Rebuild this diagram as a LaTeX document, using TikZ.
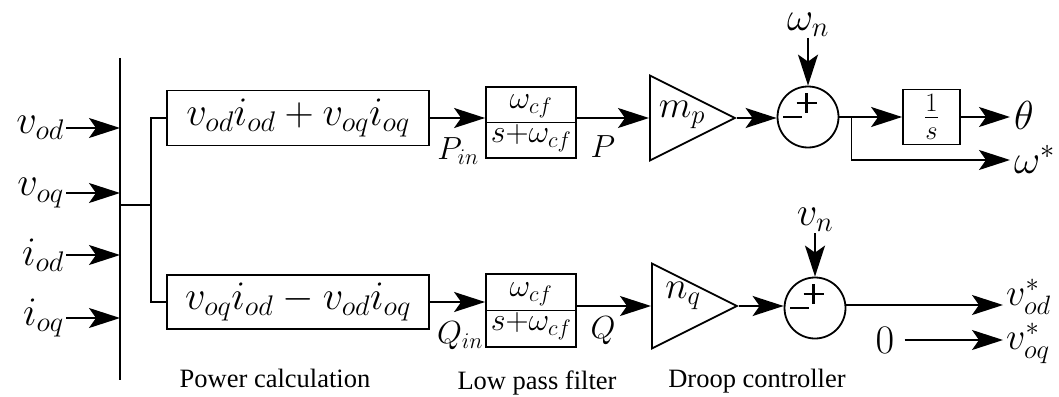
\RequirePackage{fix-cm}
\documentclass[tikz,border=0pt]{standalone}
\usepackage{fontspec}
\newfontfamily\capfont{Liberation Serif}
\usetikzlibrary{arrows.meta,shapes.geometric,calc}

\begin{document}
\begin{tikzpicture}[x=1pt,y=-1pt,
  wire/.style={line width=1.8pt},
  arr/.style={wire,-{Stealth[length=31pt,width=20pt,inset=7pt]}},
  blk/.style={draw,line width=1.8pt,inner sep=0pt},
  big/.style={font=\fontsize{40.5}{46}\selectfont},
  mid/.style={font=\fontsize{38}{44}\selectfont},
  lpf/.style={font=\fontsize{32}{36}\selectfont},
  caption/.style={font=\capfont\fontsize{26.5}{30}\selectfont},
  gain/.style={draw,line width=1.8pt,isosceles triangle,isosceles triangle stretches,
    minimum width=85pt,minimum height=85pt,inner sep=0pt,anchor=west},
  sum/.style={draw,circle,line width=1.8pt,minimum size=61pt,inner sep=0pt},
  sign/.style={line width=2.8pt}]
\useasboundingbox (0,0) rectangle (1059,396);

% measurement bus
\coordinate (bt) at (120,58);
\coordinate (bb) at (120,380);
\draw[wire] (bt) -- (bb);

\foreach \n/\t/\y in {vod/v_{od}/128, voq/v_{oq}/193, iod/i_{od}/255, ioq/i_{oq}/318} {
  \node[big,anchor=east,inner sep=2pt] (\n) at (66,\y) {$\t$};
  \draw[arr] (\n.east) -- (\n.east -| bt);
}

% power calculation
\coordinate (bj) at (120,205);
\coordinate (br) at (151,205);
\node[blk,big,minimum width=262pt,minimum height=55pt] (pc1) at (298,118) {$v_{od}i_{od}+v_{oq}i_{oq}$};
\node[blk,big,minimum width=262pt,minimum height=54pt] (pc2) at (298,302) {$v_{oq}i_{od}-v_{od}i_{oq}$};
\draw[wire] (bj) -- (br);
\draw[wire] (pc1.west) -| (br) |- (pc2.west);

% low pass filters
\node[blk,minimum width=90pt,minimum height=71pt] (lpf1) at (531,122.5) {};
\draw[wire] (lpf1.west) -- (lpf1.east);
\node[lpf] (n1) at ($(lpf1.center)+(0,-16)$) {$\omega_{cf}$};
\node[lpf] (d1) at ($(lpf1.center)+(0,16)$) {$s{+}\omega_{cf}$};
\node[blk,minimum width=90pt,minimum height=73pt] (lpf2) at (531,310.5) {};
\draw[wire] (lpf2.west) -- (lpf2.east);
\node[lpf] (n2) at ($(lpf2.center)+(0,-16)$) {$\omega_{cf}$};
\node[lpf] (d2) at ($(lpf2.center)+(0,16)$) {$s{+}\omega_{cf}$};

\draw[arr] (pc1.east) -- (pc1.east -| lpf1.west);
\draw[arr] (pc2.east) -- (pc2.east -| lpf2.west);
\node[lpf] (pin) at (458,151) {$P_{in}$};
\node[lpf] (pout) at (603,147) {$P$};
\node[lpf] (qin) at (460,336) {$Q_{in}$};
\node[lpf] (qout) at (603,331) {$Q$};

% droop gains
\node[gain] (mp) at (649,118) {};
\node[mid] (mpl) at ($(mp.west)+(33,-3)$) {$m_p$};
\node[gain] (nq) at (651,306) {};
\node[mid] (nql) at ($(nq.west)+(32,-10)$) {$n_q$};
\draw[arr] (lpf1.east |- mp.west) -- (mp.west);
\draw[arr] (lpf2.east |- nq.west) -- (nq.west);

% summing junctions
\node[sum] (s1) at (808,117) {};
\node[sum] (s2) at (815,308) {};
\draw[arr] (mp.apex) -- (mp.apex -| s1.west);
\draw[arr] (nq.apex) -- (nq.apex -| s2.west);
\node[big,anchor=south,inner sep=1pt] (wn) at (808,38) {$\omega_n$};
\node[big,anchor=south,inner sep=1pt] (vn) at (815,233) {$v_n$};
\draw[arr] (wn.south) -- (s1.north);
\draw[arr] (vn.south) -- (s2.north);
\foreach \s in {s1,s2} {
  \draw[sign] ($(\s.center)+(-1.5,-24)$) -- ($(\s.center)+(-1.5,-4)$);
  \draw[sign] ($(\s.center)+(-11.5,-14)$) -- ($(\s.center)+(8.5,-14)$);
  \draw[sign] ($(\s.center)+(-25,0)$) -- ($(\s.center)+(-6,0)$);
}

% frequency outputs
\coordinate (j1) at ($(s1.east)+(12,0)$);
\node[blk,mid,minimum width=57pt,minimum height=55pt] (int) at (931.5,117) {$\frac{1}{s}$};
\draw[wire] (s1.east) -- (j1);
\draw[arr] (j1) -- (int.west);
\coordinate (thend) at (1010,117);
\draw[arr] (int.east) -- (thend);
\node[big,anchor=west,inner sep=0pt] (th) at (1014,115) {$\theta$};
\coordinate (wend) at (1010,160);
\draw[arr] (j1) |- (wend);
\node[big,anchor=base west,inner sep=0pt] (ws) at (1014,173) {$\omega^*$};

% voltage outputs
\coordinate (vdend) at (1003,305);
\draw[arr] (s2.east |- vdend) -- (vdend);
\node[mid,anchor=base west,inner sep=0pt] (vds) at (1006,305) {$v^*_{od}$};
\node[big,inner xsep=10pt] (zero) at (885,340) {$0$};
\coordinate (vqend) at (1003,340);
\draw[arr] (zero.east) -- (vqend);
\node[mid,anchor=base west,inner sep=0pt] (vqs) at (1006,349) {$v^*_{oq}$};

% block captions
\node[caption] (c1) at (275,378) {Power calculation};
\node[caption] (c2) at (537,383) {Low pass filter};
\node[caption] (c3) at (757,381) {Droop controller};
\end{tikzpicture}
\end{document}
